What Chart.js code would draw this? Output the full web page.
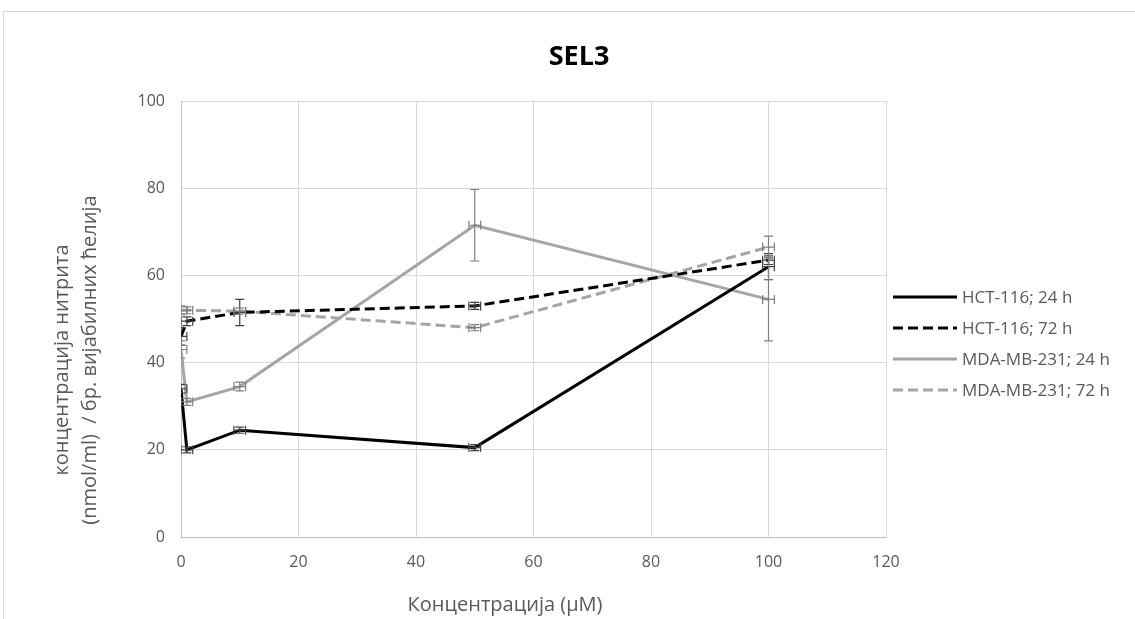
<!DOCTYPE html>
<html>
<head>
<meta charset="utf-8">
<script src="https://cdn.jsdelivr.net/npm/chart.js@4/dist/chart.umd.min.js"></script>
<style>
  html, body { margin: 0; padding: 0; background: #fff; }
  #wrap { width: 1135px; height: 619px; position: relative; }
</style>
</head>
<body>
<div id="wrap"><canvas id="sel3"></canvas></div>
<script>
// concentrations (µM)
const concentrations = [0, 1, 10, 50, 100];

const seriesNames = ["HCT-116; 24 h", "HCT-116; 72 h", "MDA-MB-231; 24 h", "MDA-MB-231; 72 h"];

const hct24 = [34, 20, 24.5, 20.5, 62];
const hct72 = [46, 49.5, 51.5, 53, 63.5];
const mda24 = [43, 31, 34.5, 71.5, 54.5];
const mda72 = [52, 52, 51.8, 48, 66.5];

// y error (+/-)
const hct24Err = [1, 0.7, 0.7, 0.7, 3];
const hct72Err = [2, 1, 3, 0.8, 1];
const mda24Err = [2, 0.8, 1, 8.2, 9.5];
const mda72Err = [1, 0.8, 0.7, 0.7, 2.5];

// x error (+/-)
const xErr = 1;

const yTicks = [0, 20, 40, 60, 80, 100];
const xTicks = [0, 20, 40, 60, 80, 100, 120];

const FONT = "'Open Sans', 'Noto Sans', sans-serif";
const TXT = "#595959";

function pts(ys, errs) {
  return concentrations.map((x, i) => ({ x: x, y: ys[i], err: errs[i] }));
}

const styles = [
  { color: "#000000", dash: [], errColor: "#404040" },
  { color: "#000000", dash: [10, 5], errColor: "#404040" },
  { color: "#a5a5a5", dash: [], errColor: "#7f7f7f" },
  { color: "#a5a5a5", dash: [10, 5], errColor: "#7f7f7f" }
];

const allData = [pts(hct24, hct24Err), pts(hct72, hct72Err), pts(mda24, mda24Err), pts(mda72, mda72Err)];

const datasets = allData.map((d, i) => ({
  label: seriesNames[i],
  data: d,
  showLine: true,
  borderColor: styles[i].color,
  borderDash: styles[i].dash,
  borderWidth: 3,
  pointRadius: 0,
  pointHoverRadius: 0,
  tension: 0,
  errColor: styles[i].errColor
}));

// draws x and y error bars with caps
const errorBars = {
  id: "errorBars",
  afterDatasetsDraw(chart) {
    const ctx = chart.ctx;
    const xs = chart.scales.x, ys = chart.scales.y;
    const a = chart.chartArea;
    ctx.save();
    ctx.beginPath();
    ctx.rect(a.left, a.top - 20, a.right - a.left, a.bottom - a.top + 20);
    ctx.clip();
    ctx.lineWidth = 1.2;
    const cap = 4.5;
    chart.data.datasets.forEach(ds => {
      ctx.strokeStyle = ds.errColor;
      ds.data.forEach(p => {
        const px = xs.getPixelForValue(p.x);
        const py = ys.getPixelForValue(p.y);
        const top = ys.getPixelForValue(p.y + p.err);
        const bot = ys.getPixelForValue(p.y - p.err);
        const l = xs.getPixelForValue(p.x - xErr);
        const r = xs.getPixelForValue(p.x + xErr);
        ctx.beginPath();
        ctx.moveTo(px, top); ctx.lineTo(px, bot);
        ctx.moveTo(px - cap, top); ctx.lineTo(px + cap, top);
        ctx.moveTo(px - cap, bot); ctx.lineTo(px + cap, bot);
        ctx.moveTo(l, py); ctx.lineTo(r, py);
        ctx.moveTo(l, py - cap); ctx.lineTo(l, py + cap);
        ctx.moveTo(r, py - cap); ctx.lineTo(r, py + cap);
        ctx.stroke();
      });
    });
    ctx.restore();
  }
};

// title, axis titles, legend and frame
const decorations = {
  id: "decorations",
  afterDraw(chart) {
    const ctx = chart.ctx;
    ctx.save();
    ctx.strokeStyle = "#d9d9d9";
    ctx.lineWidth = 1;
    ctx.strokeRect(3.5, 11.5, 1140, 620);

    ctx.fillStyle = "#000";
    ctx.font = "bold 27px " + FONT;
    ctx.textAlign = "center";
    ctx.textBaseline = "middle";
    ctx.fillText("SEL3", 579, 57);

    ctx.fillStyle = TXT;
    ctx.font = "20px " + FONT;
    ctx.fillText("Концентрација (μM)", 505, 605);

    ctx.save();
    ctx.translate(62, 360);
    ctx.rotate(-Math.PI / 2);
    ctx.fillText("концентрација нитрита", 0, 0);
    ctx.fillText("(nmol/ml)  / бр. вијабилних ћелија", 0, 28);
    ctx.restore();

    ctx.font = "17px " + FONT;
    ctx.textAlign = "left";
    const ly = [297, 328, 359, 390];
    chart.data.datasets.forEach((ds, i) => {
      ctx.strokeStyle = ds.borderColor;
      ctx.lineWidth = 3;
      ctx.setLineDash(ds.borderDash);
      ctx.beginPath();
      ctx.moveTo(893, ly[i]);
      ctx.lineTo(957, ly[i]);
      ctx.stroke();
      ctx.setLineDash([]);
      ctx.fillStyle = TXT;
      ctx.fillText(ds.label, 962, ly[i] + 1);
    });
    ctx.restore();
  }
};

new Chart(document.getElementById("sel3"), {
  type: "scatter",
  data: { datasets: datasets },
  options: {
    responsive: true,
    maintainAspectRatio: false,
    animation: false,
    layout: { padding: { top: 101, right: 249, bottom: 0, left: 0 } },
    plugins: {
      legend: { display: false },
      tooltip: { enabled: false }
    },
    scales: {
      x: {
        type: "linear",
        min: 0, max: 120,
        afterBuildTicks: s => { s.ticks = xTicks.map(v => ({ value: v })); },
        afterFit: s => { s.height = 82; },
        grid: { color: "#d9d9d9", drawTicks: false },
        border: { color: "#bfbfbf" },
        ticks: { color: TXT, font: { family: FONT, size: 16 }, padding: 16 }
      },
      y: {
        type: "linear",
        min: 0, max: 100,
        afterBuildTicks: s => { s.ticks = yTicks.map(v => ({ value: v })); },
        afterFit: s => { s.width = 181; },
        grid: { color: "#d9d9d9", drawTicks: false },
        border: { color: "#bfbfbf" },
        ticks: { color: TXT, font: { family: FONT, size: 16 }, padding: 16 }
      }
    }
  },
  plugins: [errorBars, decorations]
});
</script>
</body>
</html>
